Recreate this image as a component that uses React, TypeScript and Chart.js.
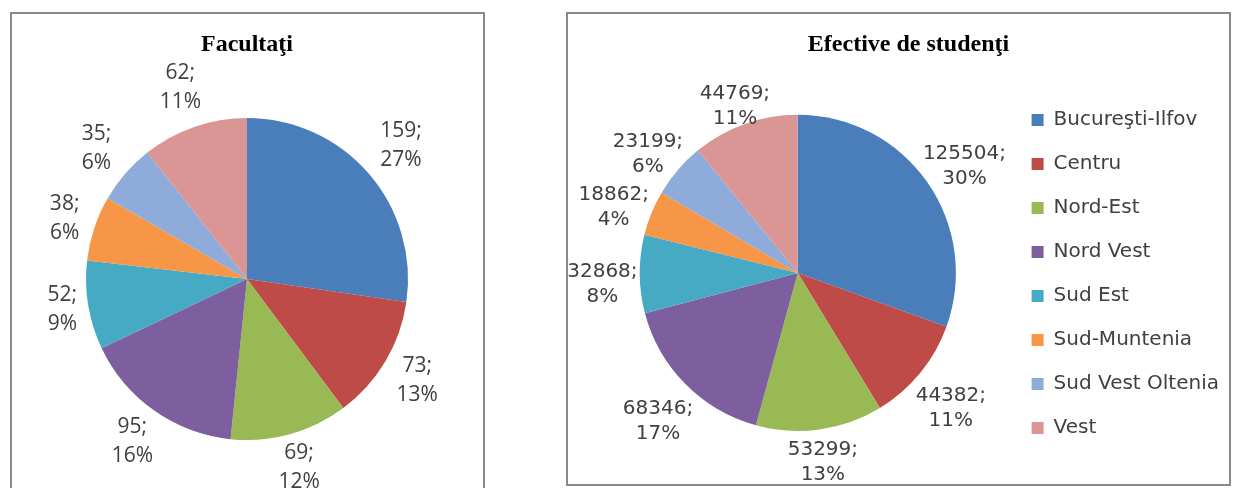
import React, { useEffect, useRef } from "react";
import { Chart, registerables } from "chart.js";

Chart.register(...registerables);

// ---- data ----
const regions = [
  "Bucureşti-Ilfov",
  "Centru",
  "Nord-Est",
  "Nord Vest",
  "Sud Est",
  "Sud-Muntenia",
  "Sud Vest Oltenia",
  "Vest",
];
const facultati = [159, 73, 69, 95, 52, 38, 35, 62];
const facultatiPct = [27, 13, 12, 16, 9, 6, 6, 11];
const studenti = [125504, 44382, 53299, 68346, 32868, 18862, 23199, 44769];
const studentiPct = [30, 11, 13, 17, 8, 4, 6, 11];
const sliceColors = [
  "#4A7EBB",
  "#BE4B48",
  "#98B954",
  "#7D5FA0",
  "#46AAC4",
  "#F79646",
  "#8EABD9",
  "#D99694",
];
const titleLeft = "Facultaţi";
const titleRight = "Efective de studenţi";

// labels drawn just outside each slice
const outLabels = {
  id: "outLabels",
  afterDatasetsDraw(chart: any, _args: any, opts: any) {
    const ctx = chart.ctx;
    const meta = chart.getDatasetMeta(0);
    const values = chart.data.datasets[0].data;
    const pcts = opts.pcts || [];
    const dy = opts.dy || 0;
    ctx.save();
    ctx.font = opts.font;
    ctx.fillStyle = opts.color;
    ctx.textAlign = "center";
    ctx.textBaseline = "middle";
    meta.data.forEach((arc: any, i: number) => {
      const { x, y, startAngle, endAngle, outerRadius } = arc.getProps(
        ["x", "y", "startAngle", "endAngle", "outerRadius"],
        true
      );
      const mid = (startAngle + endAngle) / 2;
      const lines = [`${values[i]};`, `${pcts[i]}%`];
      const w = Math.max(...lines.map((l) => ctx.measureText(l).width));
      const h = lines.length * opts.lineHeight;
      const c = Math.cos(mid);
      const s = Math.sin(mid);
      const vk = s > 0 ? opts.vBelow : opts.vAbove;
      const d = outerRadius + opts.gap + (Math.abs(c) * w) / 2 + Math.abs(s) * h * vk;
      const cx = x + c * d;
      const cy = y + s * d + dy;
      lines.forEach((l, k) => {
        ctx.fillText(l, cx, cy - h / 2 + opts.lineHeight * (k + 0.5));
      });
    });
    ctx.restore();
  },
};

export default function App() {
  const leftRef = useRef<HTMLCanvasElement | null>(null);
  const rightRef = useRef<HTMLCanvasElement | null>(null);

  useEffect(() => {
    const titleFont = { family: "'Liberation Serif', 'Times New Roman', serif", size: 24, weight: "bold" as const };

    const left = new Chart(leftRef.current as HTMLCanvasElement, {
      type: "pie",
      data: {
        labels: regions,
        datasets: [
          {
            data: facultati,
            backgroundColor: sliceColors,
            borderWidth: 0,
            hoverOffset: 0,
          },
        ],
      },
      plugins: [outLabels as any],
      options: {
        responsive: false,
        animation: false,
        layout: { padding: { left: 74, right: 75, top: 0, bottom: 60 } },
        plugins: {
          legend: { display: false },
          tooltip: { enabled: false },
          title: {
            display: true,
            text: titleLeft,
            color: "#000000",
            font: titleFont,
            padding: { top: 16.6, bottom: 58.6 },
          },
          outLabels: {
            pcts: facultatiPct,
            font: "21px 'Open Sans'",
            color: "#404040",
            lineHeight: 29,
            gap: 8,
            dy: 0,
            vAbove: 0.5,
            vBelow: 0.38,
          },
        } as any,
      },
    });

    const right = new Chart(rightRef.current as HTMLCanvasElement, {
      type: "pie",
      data: {
        labels: regions,
        datasets: [
          {
            data: studenti,
            backgroundColor: sliceColors,
            borderWidth: 0,
            hoverOffset: 0,
          },
        ],
      },
      plugins: [outLabels as any],
      options: {
        responsive: false,
        animation: false,
        layout: { padding: { left: 20, right: 0, top: 0, bottom: 0 } },
        plugins: {
          legend: {
            display: true,
            position: "right",
            align: "center",
            title: {
              display: true,
              text: " ",
              font: { size: 10, lineHeight: 1 },
              padding: { top: 40, bottom: 0 },
            },
            labels: {
              boxWidth: 12,
              boxHeight: 12,
              padding: 24,
              color: "#404040",
              font: { family: "'DejaVu Sans'", size: 20 },
            },
          },
          tooltip: { enabled: false },
          title: {
            display: true,
            text: titleRight,
            color: "#000000",
            font: titleFont,
            padding: { top: 16, bottom: 56 },
          },
          subtitle: {
            display: true,
            position: "bottom",
            fullSize: false,
            text: " ",
            font: { size: 10, lineHeight: 1 },
            padding: { top: 43, bottom: 0 },
          },
          outLabels: {
            pcts: studentiPct,
            font: "20px 'DejaVu Sans'",
            color: "#404040",
            lineHeight: 25,
            gap: 2,
            dy: 10,
            vAbove: 0.33,
            vBelow: 0.33,
          },
        } as any,
      },
    });

    return () => {
      left.destroy();
      right.destroy();
    };
  }, []);

  return (
    <div
      style={{
        position: "absolute",
        left: 0,
        top: 0,
        width: 1234,
        height: 488,
        overflow: "hidden",
        background: "#ffffff",
      }}
    >
      <div
        style={{
          position: "absolute",
          left: 10,
          top: 12,
          width: 471,
          height: 486,
          border: "2px solid #8a8a8a",
          overflow: "hidden",
          background: "#ffffff",
        }}
      >
        <canvas ref={leftRef} width={471} height={486} style={{ display: "block" }} />
      </div>
      <div
        style={{
          position: "absolute",
          left: 566,
          top: 12,
          width: 661,
          height: 470,
          border: "2px solid #8a8a8a",
          overflow: "hidden",
          background: "#ffffff",
        }}
      >
        <canvas ref={rightRef} width={661} height={470} style={{ display: "block" }} />
      </div>
    </div>
  );
}
